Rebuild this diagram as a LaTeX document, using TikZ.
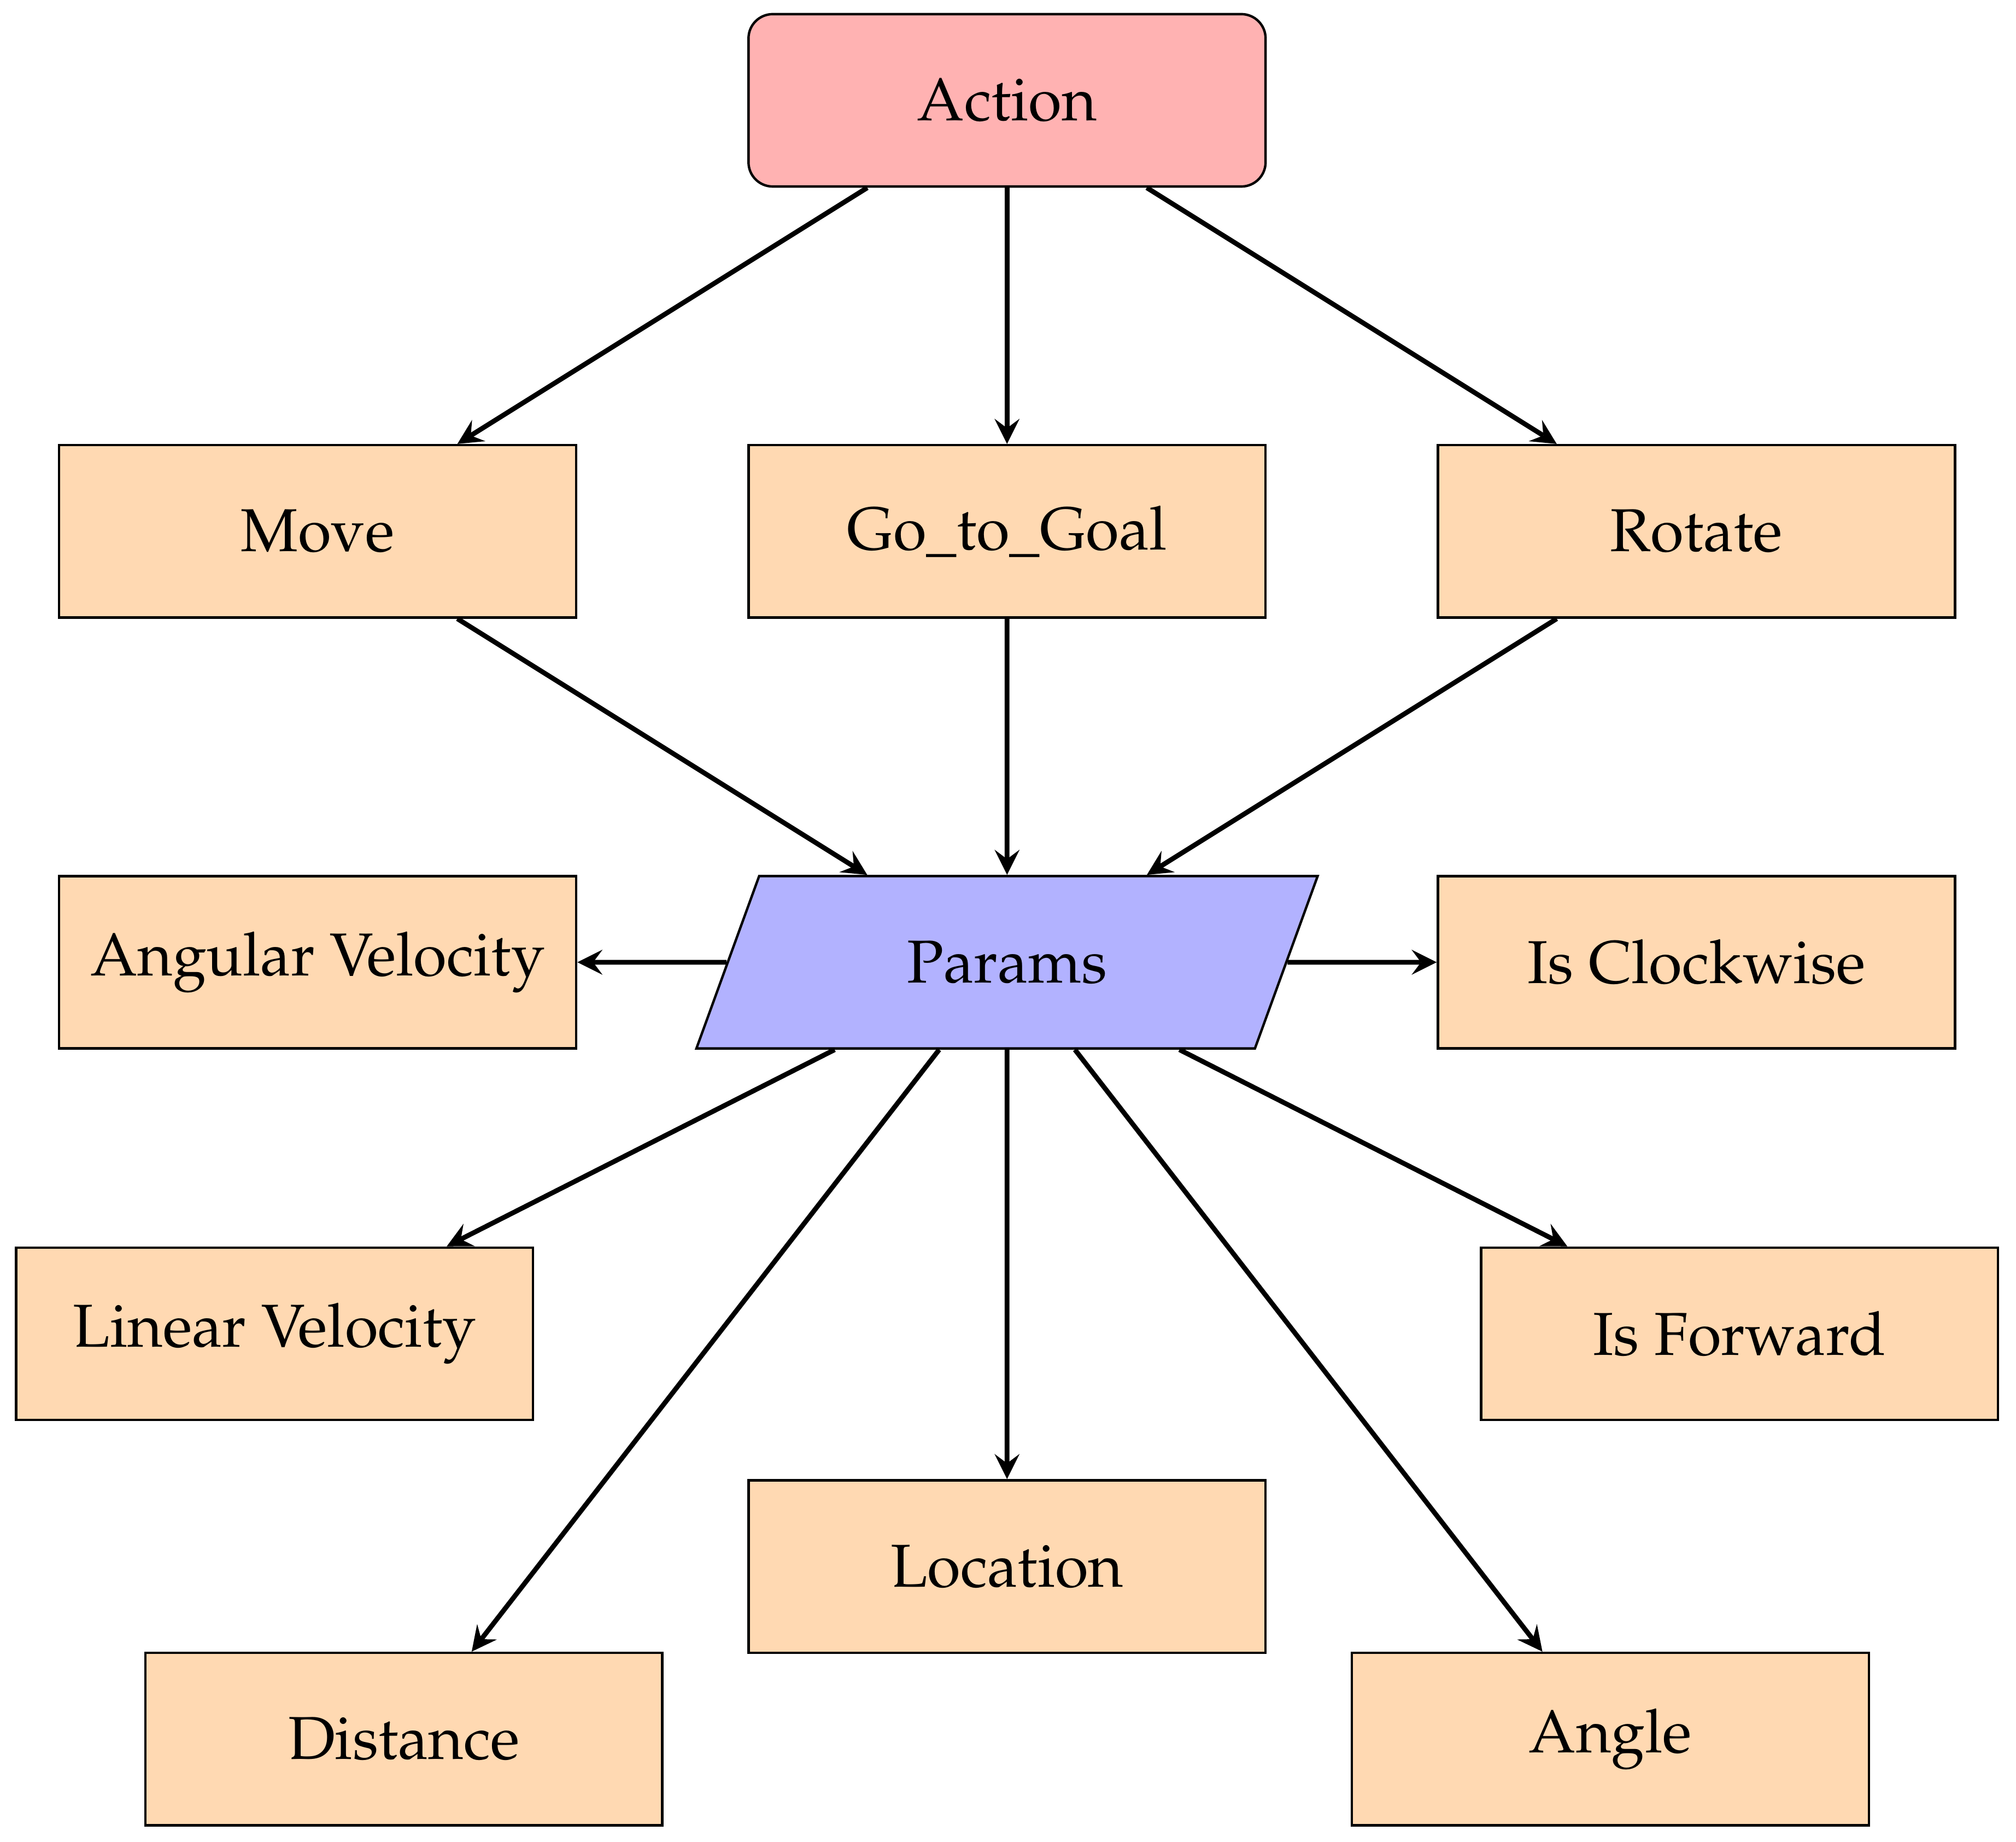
\documentclass[tikz,border=0pt]{standalone}
\usepackage[T1]{fontenc}
\usepackage{mathpazo}
\usepackage{tikz}
\usetikzlibrary{arrows,shapes.geometric}

\begin{document}
\begin{tikzpicture}[
    actbox/.style={rectangle,rounded corners,draw=black,fill=red!30,minimum width=3cm,minimum height=1cm},
    itembox/.style={rectangle,draw=black,fill=orange!30,minimum width=3cm,minimum height=1cm},
    parambox/.style={trapezium,trapezium left angle=70,trapezium right angle=110,draw=black,fill=blue!30,minimum width=3.6cm,minimum height=1cm},
    link/.style={->,>=stealth,thick}]
  \useasboundingbox (-5.843,-10.103) rectangle (5.854,0.582);
  % top
  \node[actbox] (action) at (0,0) {Action};
  \node[itembox] (move) at (-4,-2.5) {Move};
  \node[itembox] (goal) at (0,-2.5) {Go\_to\_Goal};
  \node[itembox] (rotate) at (4,-2.5) {Rotate};
  % params
  \node[parambox] (params) at (0,-5) {Params};
  \node[itembox] (angvel) at (-4,-5) {Angular Velocity};
  \node[itembox] (clockwise) at (4,-5) {Is Clockwise};
  \node[itembox] (linvel) at (-4.25,-7.155) {Linear Velocity};
  \node[itembox] (forward) at (4.25,-7.155) {Is Forward};
  \node[itembox] (location) at (0,-8.505) {Location};
  \node[itembox] (distance) at (-3.5,-9.506) {Distance};
  \node[itembox] (angle) at (3.5,-9.506) {Angle};
  % arrows
  \draw[link] (action) -- (move);
  \draw[link] (action) -- (goal);
  \draw[link] (action) -- (rotate);
  \draw[link] (move) -- (params);
  \draw[link] (goal) -- (params);
  \draw[link] (rotate) -- (params);
  \draw[link] (params) -- (angvel);
  \draw[link] (params) -- (clockwise);
  \draw[link] (params) -- (linvel);
  \draw[link] (params) -- (forward);
  \draw[link] (params) -- (location);
  \draw[link] (params) -- (distance);
  \draw[link] (params) -- (angle);
\end{tikzpicture}
\end{document}
